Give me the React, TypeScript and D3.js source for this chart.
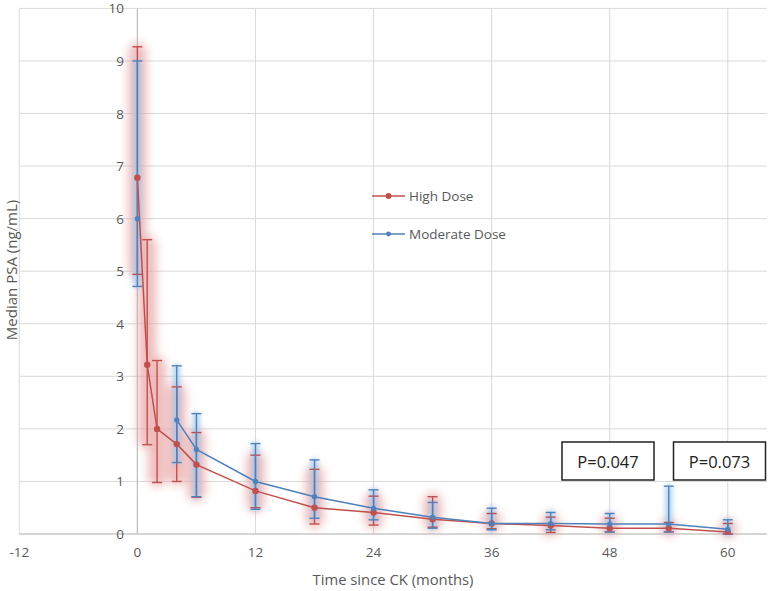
import React from "react";
import * as d3 from "d3";

const highMonths = [0, 1, 2, 4, 6, 12, 18, 24, 30, 36, 42, 48, 54, 60];
const highMedian = [6.78, 3.22, 2.0, 1.71, 1.32, 0.82, 0.5, 0.41, 0.28, 0.2, 0.16, 0.11, 0.11, 0.04];
const highUpper = [9.27, 5.6, 3.3, 2.8, 1.93, 1.5, 1.23, 0.72, 0.71, 0.39, 0.32, 0.3, 0.22, 0.2];
const highLower = [4.94, 1.7, 0.98, 1.0, 0.7, 0.5, 0.19, 0.17, 0.13, 0.1, 0.03, 0.04, 0.04, 0.0];

// Moderate dose: null at months 1 and 2 (gap in the line)
const modMonths = [0, 1, 2, 4, 6, 12, 18, 24, 30, 36, 42, 48, 54, 60];
const modMedian = [6.0, null, null, 2.17, 1.61, 1.0, 0.71, 0.49, 0.32, 0.2, 0.2, 0.19, 0.19, 0.09];
const modUpper = [9.0, null, null, 3.2, 2.29, 1.72, 1.41, 0.84, 0.6, 0.49, 0.41, 0.39, 0.91, 0.27];
const modLower = [4.71, null, null, 1.36, 0.71, 0.47, 0.3, 0.27, 0.11, 0.08, 0.08, 0.04, 0.04, 0.0];

const xTicks = [-12, 0, 12, 24, 36, 48, 60];
const yTicks = [0, 1, 2, 3, 4, 5, 6, 7, 8, 9, 10];
const pLabels = ["P=0.047", "P=0.073"];

const RED = "#c0504d";
const BLUE = "#4f81bd";
const FONT = "'Open Sans', 'Noto Sans', sans-serif";
const TXT = "#595959";

type Pt = { m: number; v: number | null; hi: number | null; lo: number | null };

export default function App() {
  const x = d3.scaleLinear().domain([-12, 60]).range([19.3, 727.8]);
  const y = d3.scaleLinear().domain([0, 10]).range([534, 8.4]);
  const plotRight = 767;

  const high: Pt[] = highMonths.map((m, i) => ({ m, v: highMedian[i], hi: highUpper[i], lo: highLower[i] }));
  const mod: Pt[] = modMonths.map((m, i) => ({ m, v: modMedian[i], hi: modUpper[i], lo: modLower[i] }));

  const line = d3
    .line<Pt>()
    .defined((d) => d.v != null)
    .x((d) => x(d.m))
    .y((d) => y(d.v as number));

  const cap = 5;

  const bars = (data: Pt[], color: string) =>
    data
      .filter((d) => d.v != null)
      .map((d, i) => (
        <g key={i} stroke={color} strokeWidth={1.4}>
          <line x1={x(d.m)} x2={x(d.m)} y1={y(d.hi as number)} y2={y(d.lo as number)} />
          <line x1={x(d.m) - cap} x2={x(d.m) + cap} y1={y(d.hi as number)} y2={y(d.hi as number)} />
          <line x1={x(d.m) - cap} x2={x(d.m) + cap} y1={y(d.lo as number)} y2={y(d.lo as number)} />
        </g>
      ));

  const glows = (data: Pt[], color: string, w: number, pad: number) =>
    data
      .filter((d) => d.v != null)
      .map((d, i) => (
        <rect
          key={i}
          x={x(d.m) - w / 2}
          width={w}
          y={y(d.hi as number) - pad}
          height={y(d.lo as number) - y(d.hi as number) + 2 * pad}
          rx={w / 2}
          fill={color}
        />
      ));

  const pBoxes = [
    { x0: 562, x1: 654 },
    { x0: 673.5, x1: 765.5 },
  ];

  return (
    <svg width={770} height={591} style={{ position: "absolute", left: 0, top: 0 }}>
      <defs>
        <filter id="glowR" filterUnits="userSpaceOnUse" x="0" y="0" width="770" height="591">
          <feGaussianBlur stdDeviation="5" />
        </filter>
        <filter id="glowB" filterUnits="userSpaceOnUse" x="0" y="0" width="770" height="591">
          <feGaussianBlur stdDeviation="2.5" />
        </filter>
      </defs>
      <rect x={0} y={0} width={770} height={591} fill="#fff" />

      {/* gridlines */}
      {yTicks.map((t) => (
        <line key={"gy" + t} x1={x(-12)} x2={plotRight} y1={y(t)} y2={y(t)} stroke="#d9d9d9" strokeWidth={1} />
      ))}
      {xTicks.map((t) => (
        <line key={"gx" + t} x1={x(t)} x2={x(t)} y1={y(0)} y2={y(10)} stroke="#d9d9d9" strokeWidth={1} />
      ))}
      {/* axes */}
      <line x1={x(0)} x2={x(0)} y1={y(0)} y2={y(10)} stroke="#bfbfbf" strokeWidth={1.2} />
      <line x1={x(-12)} x2={plotRight} y1={y(0)} y2={y(0)} stroke="#bfbfbf" strokeWidth={1.2} />

      {/* y tick labels */}
      {yTicks.map((t) => (
        <text
          key={"ty" + t}
          x={124}
          y={y(t)}
          textAnchor="end"
          dominantBaseline="central"
          fontFamily={FONT}
          fontSize={13.5}
          fill={TXT}
        >
          {t}
        </text>
      ))}
      {/* x tick labels */}
      {xTicks.map((t) => (
        <text
          key={"tx" + t}
          x={x(t)}
          y={552}
          textAnchor="middle"
          dominantBaseline="central"
          fontFamily={FONT}
          fontSize={13.5}
          fill={TXT}
        >
          {t}
        </text>
      ))}

      {/* axis titles */}
      <text
        x={393}
        y={579}
        textAnchor="middle"
        dominantBaseline="central"
        fontFamily={FONT}
        fontSize={14.8}
        fill={TXT}
      >
        Time since CK (months)
      </text>
      <text
        transform={`translate(11,270) rotate(-90)`}
        textAnchor="middle"
        dominantBaseline="central"
        fontFamily={FONT}
        fontSize={15}
        fill={TXT}
      >
        Median PSA (ng/mL)
      </text>

      {/* glows */}
      <g filter="url(#glowR)" opacity={0.7}>{glows(high, "#e8a0a0", 18, 4)}</g>
      <g filter="url(#glowB)" opacity={0.8}>{glows(mod, "#9cc8ee", 7, 2)}</g>

      {/* error bars */}
      {bars(high, RED)}
      {bars(mod, BLUE)}

      {/* lines */}
      <path d={line(high) || ""} fill="none" stroke={RED} strokeWidth={1.5} />
      {high.map((d, i) => (
        <circle key={"hp" + i} cx={x(d.m)} cy={y(d.v as number)} r={3.2} fill={RED} />
      ))}
      <path d={line(mod) || ""} fill="none" stroke={BLUE} strokeWidth={1.5} />
      {mod
        .filter((d) => d.v != null)
        .map((d, i) => (
          <circle key={"mp" + i} cx={x(d.m)} cy={y(d.v as number)} r={2.6} fill={BLUE} />
        ))}

      {/* legend */}
      <g>
        <line x1={372} x2={405} y1={196} y2={196} stroke={RED} strokeWidth={1.5} />
        <circle cx={388.5} cy={196} r={3} fill={RED} />
        <text x={409} y={196} dominantBaseline="central" fontFamily={FONT} fontSize={13.5} fill={TXT}>
          High Dose
        </text>
        <line x1={372} x2={405} y1={234} y2={234} stroke={BLUE} strokeWidth={1.5} />
        <circle cx={388.5} cy={234} r={2.4} fill={BLUE} />
        <text x={409} y={234} dominantBaseline="central" fontFamily={FONT} fontSize={13.5} fill={TXT}>
          Moderate Dose
        </text>
      </g>

      {/* p-value boxes */}
      {pBoxes.map((b, i) => (
        <g key={"pb" + i}>
          <rect x={b.x0} y={442} width={b.x1 - b.x0} height={38} fill="#fff" stroke="#222" strokeWidth={1.5} />
          <text
            x={(b.x0 + b.x1) / 2}
            y={461}
            textAnchor="middle"
            dominantBaseline="central"
            fontFamily={FONT}
            fontSize={16.5}
            fill="#222"
          >
            {pLabels[i]}
          </text>
        </g>
      ))}
    </svg>
  );
}
